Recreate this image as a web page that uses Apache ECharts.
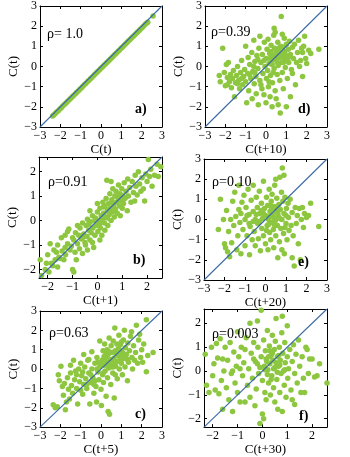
<!DOCTYPE html>
<html>
<head>
<meta charset="utf-8">
<script src="https://cdn.jsdelivr.net/npm/echarts@6/dist/echarts.min.js"></script>
<style>
  html, body { margin: 0; padding: 0; background: #fff; }
  #chart { width: 350px; height: 457px; }
</style>
</head>
<body>
<div id="chart"></div>
<script>
// C(t) vs itself (lag 0)
var pointsA = [[-2.38,-2.45],[-2.32,-2.4],[-2.25,-2.33],[-2.18,-2.26],[-2.1,-2.19],[-2.02,-2.11],[-1.95,-2.04],[-1.88,-1.96],[-1.8,-1.89],[-1.72,-1.81],
  [-1.65,-1.74],[-1.57,-1.66],[-1.5,-1.59],[-1.42,-1.51],[-1.35,-1.44],[-1.27,-1.36],[-1.2,-1.29],[-1.12,-1.21],[-1.05,-1.14],[-0.97,-1.06],
  [-0.9,-0.99],[-0.82,-0.91],[-0.75,-0.84],[-0.67,-0.76],[-0.6,-0.69],[-0.52,-0.61],[-0.45,-0.54],[-0.37,-0.46],[-0.3,-0.39],[-0.22,-0.31],
  [-0.15,-0.24],[-0.07,-0.16],[0.0,-0.09],[0.08,-0.01],[0.15,0.06],[0.23,0.14],[0.3,0.21],[0.38,0.29],[0.45,0.36],[0.53,0.44],
  [0.6,0.51],[0.68,0.59],[0.75,0.66],[0.83,0.74],[0.9,0.81],[0.98,0.89],[1.05,0.96],[1.13,1.04],[1.2,1.11],[1.28,1.19],
  [1.35,1.26],[1.43,1.34],[1.5,1.41],[1.58,1.49],[1.65,1.56],[1.73,1.64],[1.8,1.71],[1.88,1.79],[1.95,1.86],[2.03,1.94],
  [2.1,2.01],[2.18,2.09],[2.25,2.16],[2.3,2.2],[2.56,2.5]];

// C(t) vs C(t+1)
var pointsB = [[-2.3,-1.6],[-2.25,-2.25],[-2.1,-2.0],[-2.05,-1.75],[-1.95,-2.1],[-1.9,-0.95],[-1.85,-1.75],[-1.8,-1.85],[-1.7,-1.6],[-1.65,-1.3],
  [-1.6,-1.9],[-1.55,-1.5],[-1.5,-1.55],[-1.45,-0.7],[-1.42,-1.25],[-1.35,-1.6],[-1.3,-1.1],[-1.28,-1.4],[-1.2,-0.95],[-1.15,-0.35],
  [-1.1,-1.2],[-1.05,-1.05],[-1.0,-2.0],[-0.95,-2.1],[-0.95,-0.8],[-0.9,-1.3],[-0.88,-0.5],[-0.85,-1.6],[-0.8,-0.95],[-0.75,-0.6],
  [-0.72,-1.15],[-0.7,-0.3],[-0.65,-0.75],[-0.6,-1.35],[-0.6,-0.1],[-0.55,-0.55],[-0.5,-0.9],[-0.48,-1.0],[-0.45,-0.2],[-0.42,-0.65],
  [-0.4,0.05],[-0.35,-0.4],[-0.3,-0.8],[-0.28,-0.05],[-0.25,-0.5],[-0.2,0.2],[-0.18,-0.3],[-0.15,-1.1],[-0.1,-0.6],[-0.08,0.1],
  [-0.05,-0.2],[0.0,0.35],[0.02,-0.45],[0.05,0.0],[0.08,-0.15],[0.1,0.5],[0.12,-0.3],[0.15,0.2],[0.18,-0.6],[0.2,0.05],
  [0.22,0.75],[0.25,0.3],[0.28,-0.1],[0.3,0.6],[0.32,0.15],[0.35,0.9],[0.38,1.65],[0.4,0.4],[0.42,-0.2],[0.45,0.7],
  [0.48,0.25],[0.5,1.1],[0.52,0.5],[0.55,0.0],[0.58,0.85],[0.6,0.35],[0.62,1.3],[0.65,0.6],[0.68,0.15],[0.7,1.0],
  [0.72,0.45],[0.75,1.2],[0.78,0.75],[0.8,0.3],[0.82,0.95],[0.85,1.45],[0.88,0.6],[0.9,1.1],[0.92,0.2],[0.95,0.8],
  [0.98,1.3],[1.0,0.5],[1.02,1.0],[1.05,0.7],[1.08,1.55],[1.1,0.9],[1.15,1.2],[1.2,0.4],[1.22,1.7],[1.25,1.0],
  [1.3,1.35],[1.35,0.75],[1.4,1.6],[1.45,1.15],[1.5,0.8],[1.52,1.85],[1.55,1.4],[1.6,1.05],[1.65,2.0],[1.7,1.5],
  [1.75,1.2],[1.8,1.75],[1.85,1.3],[1.9,0.8],[1.95,1.9],[2.0,1.6],[2.05,2.5],[2.1,1.8],[2.15,2.1],[2.2,1.4],
  [2.3,1.85],[2.4,2.3],[2.55,2.2],[2.45,1.8],[-1.0,-0.7],[-1.2,-0.45],[-0.8,-0.2],[-1.6,-1.0],[-1.75,-1.2],[-2.0,-1.4],
  [-1.3,-0.6],[-0.6,-0.7],[-0.3,0.4],[0.1,-0.8],[-0.2,-0.9],[0.3,-0.4],[0.0,0.7],[0.55,1.6],[-0.4,-1.2],[0.7,0.4],
  [0.4,0.1],[0.6,0.75],[0.25,0.55],[-0.1,0.0],[0.15,-0.05],[0.85,0.85],[1.15,0.95],[-0.35,-0.15],[0.45,0.45],[0.95,1.05]];

// C(t) vs C(t+5)
var pointsC = [[-2.35,-1.85],[-2.25,-2.0],[-2.15,-1.95],[-2.1,-0.3],[-2.05,-0.6],[-1.97,0.15],[-1.9,-0.9],[-1.85,-1.35],[-1.8,-0.75],[-1.75,-2.1],
  [-1.7,-1.7],[-1.65,-0.45],[-1.6,-1.05],[-1.55,-1.55],[-1.5,0.2],[-1.5,-0.2],[-1.45,-0.85],[-1.4,-1.25],[-1.35,0.45],[-1.3,-0.55],
  [-1.25,-0.1],[-1.2,-1.0],[-1.15,-1.8],[-1.1,0.0],[-1.05,-0.65],[-1.0,0.3],[-0.95,-0.35],[-0.9,-1.3],[-0.85,0.75],[-0.85,-0.8],
  [-0.8,0.1],[-0.75,-0.5],[-0.7,-1.0],[-0.65,0.45],[-0.6,-0.2],[-0.55,-1.8],[-0.5,-0.7],[-0.45,0.9],[-0.45,0.0],[-0.4,-0.45],
  [-0.35,-1.25],[-0.3,0.3],[-0.25,-0.9],[-0.22,-1.7],[-0.2,0.6],[-0.15,-0.15],[-0.1,-0.55],[-0.06,1.45],[-0.05,0.15],[0.0,-1.05],
  [0.02,-1.88],[0.05,0.45],[0.08,-0.3],[0.1,0.95],[0.12,-0.7],[0.15,0.2],[0.18,1.3],[0.2,-0.1],[0.22,0.6],[0.25,-1.4],
  [0.28,0.35],[0.3,1.0],[0.32,-0.45],[0.35,-2.2],[0.35,0.75],[0.38,0.05],[0.4,1.6],[0.42,-2.34],[0.45,0.5],[0.48,-0.8],
  [0.5,1.2],[0.52,0.25],[0.55,0.85],[0.58,-0.2],[0.6,1.45],[0.62,0.55],[0.65,-1.5],[0.68,2.12],[0.7,0.95],[0.72,0.15],
  [0.75,0.7],[0.78,1.3],[0.8,-0.5],[0.82,0.4],[0.85,1.05],[0.88,1.75],[0.9,0.0],[0.92,0.65],[0.95,1.25],[1.0,0.3],
  [1.02,0.9],[1.05,-0.3],[1.1,1.5],[1.12,0.55],[1.15,2.0],[1.18,0.1],[1.2,1.1],[1.25,0.75],[1.3,-0.6],[1.32,1.35],
  [1.35,0.35],[1.4,0.95],[1.45,1.7],[1.5,1.93],[1.52,0.6],[1.55,0.0],[1.6,1.2],[1.65,0.45],[1.7,0.85],[1.74,2.26],
  [1.8,0.3],[1.85,1.5],[1.9,1.8],[1.95,0.6],[2.0,1.0],[2.05,0.35],[2.1,1.3],[2.23,2.55],[2.23,-0.14],[2.3,0.7],
  [2.56,0.86],[-0.3,-0.6],[0.0,0.3],[0.4,0.9],[-0.7,-0.8],[0.6,0.1],[-1.0,-1.1],[-0.2,0.0],[0.9,1.0],[1.3,0.5],
  [0.1,-0.2],[-0.6,0.5],[0.7,-0.3],[-1.2,-0.3],[-0.9,-0.15],[0.25,0.8],[0.55,0.4],[1.0,1.4],
  [-0.5,-0.3],[0.15,0.65],[0.45,0.1],[0.8,0.75],[-0.15,0.35],[0.65,0.3],[1.1,0.8],[-0.35,-0.8],[0.3,0.2],[0.95,0.5]];

// C(t) vs C(t+10)
var pointsD = [[-2.3,-0.45],[-2.25,-0.75],[-2.13,0.9],[-2.05,-0.3],[-2.0,-0.95],[-1.95,0.1],[-1.9,-0.55],[-1.85,0.2],[-1.8,-0.75],[-1.75,-0.4],
  [-1.7,-1.05],[-1.65,-0.6],[-1.6,-0.2],[-1.55,-1.5],[-1.5,-0.8],[-1.45,-0.45],[-1.4,0.0],[-1.35,-0.7],[-1.3,-1.1],[-1.25,-0.3],
  [-1.2,0.3],[-1.15,-0.9],[-1.1,-0.5],[-1.05,-0.15],[-1.0,1.0],[-1.0,-0.75],[-0.95,-1.8],[-0.9,-0.35],[-0.88,0.45],[-0.85,-1.2],
  [-0.8,0.1],[-0.75,-0.6],[-0.7,0.7],[-0.68,-1.6],[-0.65,-0.25],[-0.6,1.3],[-0.58,-0.85],[-0.55,0.25],[-0.5,-0.5],[-0.48,-1.35],
  [-0.45,0.55],[-0.4,-0.1],[-0.38,-1.9],[-0.35,0.9],[-0.3,1.5],[-0.3,-0.7],[-0.25,0.2],[-0.2,-1.1],[-0.18,0.6],[-0.15,-0.35],
  [-0.1,-1.4],[-0.08,1.2],[-0.05,0.0],[0.0,-1.8],[0.0,0.4],[0.02,-0.6],[0.05,0.85],[0.08,-0.2],[0.1,1.35],[0.12,-1.0],
  [0.15,0.15],[0.18,0.65],[0.2,-1.5],[0.22,-0.45],[0.25,1.05],[0.28,0.3],[0.3,-2.0],[0.32,-0.8],[0.35,0.55],[0.38,1.55],
  [0.4,1.9],[0.4,-0.1],[0.42,0.9],[0.45,-1.2],[0.45,1.7],[0.48,0.35],[0.5,-1.6],[0.52,0.7],[0.55,-0.4],[0.58,1.2],
  [0.6,0.05],[0.6,-1.9],[0.62,0.9],[0.65,0.45],[0.68,-0.7],[0.7,-2.3],[0.72,1.0],[0.75,2.48],[0.75,0.2],[0.78,0.65],
  [0.8,1.6],[0.8,-0.3],[0.82,0.95],[0.85,-1.1],[0.88,0.4],[0.9,1.4],[0.92,0.75],[0.95,-0.05],[1.0,-2.0],[1.0,1.1],
  [1.02,0.5],[1.05,-0.6],[1.1,0.85],[1.12,0.2],[1.15,1.25],[1.2,-1.5],[1.2,0.6],[1.25,-0.15],[1.3,0.95],[1.3,-0.35],
  [1.35,0.4],[1.4,1.1],[1.45,-0.9],[1.5,0.2],[1.55,0.7],[1.6,1.3],[1.65,0.0],[1.7,0.3],[1.75,0.9],[1.8,0.7],
  [1.8,-0.5],[1.85,1.0],[1.9,1.5],[1.95,0.4],[2.0,0.15],[2.1,0.8],[2.2,0.65],[2.6,0.85],[-1.9,-0.9],[-1.2,-0.6],
  [-0.6,0.0],[0.15,-0.75],[-0.25,-0.9],[0.55,0.2],[-0.8,-0.4],[0.3,0.1],[-1.4,-0.85],[-0.4,0.35],[1.0,0.3],[0.7,0.5],
  [0.25,0.75],[0.5,0.55],[0.85,0.2],[-0.1,0.3],[0.65,0.75],[1.1,0.45],[0.35,-0.3],[0.95,0.6],[-0.55,-0.3],[0.2,0.4]];

// C(t) vs C(t+20)
var pointsE = [[-2.3,-0.5],[-2.2,1.0],[-2.05,0.0],[-2.0,-1.2],[-1.95,-1.4],[-1.9,0.45],[-1.85,-1.6],[-1.8,-0.6],[-1.75,-1.85],[-1.7,0.0],
  [-1.65,-1.15],[-1.6,0.9],[-1.55,-0.3],[-1.5,1.35],[-1.45,0.15],[-1.4,-1.5],[-1.35,-0.8],[-1.3,1.7],[-1.3,0.5],[-1.25,-0.15],
  [-1.2,-1.7],[-1.15,0.85],[-1.1,-0.5],[-1.05,1.2],[-1.0,0.0],[-1.0,-1.3],[-0.95,0.6],[-0.9,-0.8],[-0.85,1.5],[-0.8,0.25],
  [-0.78,-1.75],[-0.75,-0.35],[-0.7,0.95],[-0.65,-1.0],[-0.6,1.7],[-0.6,0.4],[-0.55,-0.6],[-0.5,0.0],[-0.5,-1.3],[-0.45,1.1],
  [-0.4,0.6],[-0.38,-0.2],[-0.35,-0.95],[-0.3,1.4],[-0.28,0.3],[-0.25,-1.55],[-0.2,0.8],[-0.18,-0.45],[-0.15,0.05],[-0.1,1.9],
  [-0.1,-0.8],[-0.05,0.55],[0.0,-1.2],[0.0,0.2],[0.05,1.1],[0.08,-0.3],[0.1,0.7],[0.12,-1.5],[0.15,0.0],[0.18,1.5],
  [0.2,-0.65],[0.22,0.4],[0.25,-1.0],[0.28,0.9],[0.3,-0.15],[0.32,1.25],[0.35,0.25],[0.38,-0.5],[0.4,-1.4],[0.42,0.65],
  [0.45,1.7],[0.48,-0.05],[0.5,2.0],[0.5,-0.8],[0.52,0.45],[0.55,1.05],[0.58,-0.3],[0.6,-1.9],[0.62,0.15],[0.65,0.75],
  [0.68,-1.1],[0.7,2.1],[0.72,0.5],[0.75,-0.45],[0.78,1.35],[0.8,-1.5],[0.8,0.0],[0.82,2.55],[0.85,0.9],[0.88,-0.7],
  [0.9,2.2],[0.9,0.3],[0.92,-1.7],[0.95,1.1],[1.0,-0.2],[1.02,0.55],[1.05,-1.0],[1.1,0.8],[1.12,0.1],[1.15,-0.55],
  [1.2,1.0],[1.25,-0.3],[1.3,-1.9],[1.3,0.35],[1.35,-0.8],[1.4,-2.3],[1.45,0.6],[1.5,-0.2],[1.55,0.2],[1.6,-1.2],
  [1.65,0.55],[1.7,-2.0],[1.75,0.0],[1.8,0.6],[1.85,-0.4],[1.9,0.3],[2.0,0.1],[2.1,0.2],[2.2,0.8],[2.6,-0.35],
  [-0.9,0.2],[-0.3,-0.1],[0.3,0.55],[-1.2,0.3],[0.6,0.3],[0.2,0.15],[-0.6,-0.1],[1.0,0.2],[-0.1,0.3],[0.45,-0.3],
  [-0.2,0.45],[0.15,-0.25],[0.4,0.1],[0.7,0.05],[-0.45,0.25],[0.05,-0.55],[0.25,0.7],[-0.8,-0.2],[0.55,0.6],[0.95,-0.4]];

// C(t) vs C(t+30)
var pointsF = [[-2.3,0.7],[-2.25,-0.6],[-2.15,-0.9],[-2.05,1.0],[-2.0,-0.2],[-1.95,0.3],[-1.9,-0.8],[-1.85,1.15],[-1.8,0.55],[-1.75,-0.95],
  [-1.7,1.35],[-1.65,-0.4],[-1.6,-1.6],[-1.55,0.0],[-1.5,1.0],[-1.45,-0.7],[-1.4,0.45],[-1.35,-1.2],[-1.3,1.2],[-1.25,-0.1],
  [-1.2,-1.7],[-1.15,0.8],[-1.1,-0.5],[-1.05,0.2],[-1.0,1.65],[-1.0,-0.9],[-0.95,0.6],[-0.9,-1.3],[-0.85,1.0],[-0.8,-0.2],
  [-0.75,0.35],[-0.7,-1.3],[-0.65,1.4],[-0.6,-0.6],[-0.55,0.1],[-0.5,2.0],[-0.5,-1.1],[-0.45,0.75],[-0.4,-0.3],[-0.35,1.2],
  [-0.3,-1.45],[-0.28,0.4],[-0.25,-0.75],[-0.2,2.1],[-0.18,1.0],[-0.15,-0.1],[-0.1,-2.2],[-0.05,2.55],[-0.05,0.6],[0.0,-1.8],
  [0.0,-0.4],[0.05,1.3],[0.05,-2.0],[0.08,0.2],[0.1,-0.9],[0.12,0.85],[0.15,-1.2],[0.18,0.4],[0.2,1.7],[0.22,0.05],
  [0.25,-0.5],[0.28,1.05],[0.3,0.3],[0.32,-1.0],[0.35,0.65],[0.38,-0.2],[0.4,1.5],[0.42,0.45],[0.45,-0.7],[0.48,0.9],
  [0.5,-1.3],[0.5,0.15],[0.52,1.25],[0.55,2.2],[0.58,-0.35],[0.6,0.6],[0.62,-1.6],[0.65,0.2],[0.68,1.0],[0.7,-0.9],
  [0.72,0.45],[0.75,-0.1],[0.78,1.6],[0.8,2.3],[0.8,-1.7],[0.82,0.75],[0.85,0.0],[0.88,-0.6],[0.9,1.2],[0.92,0.35],
  [0.95,-1.1],[1.0,1.9],[1.0,0.6],[1.02,-0.3],[1.05,0.1],[1.1,0.9],[1.15,-0.8],[1.2,-1.2],[1.2,0.4],[1.25,1.1],
  [1.3,-1.4],[1.3,-0.1],[1.35,0.7],[1.4,-0.5],[1.45,1.3],[1.5,0.2],[1.55,-0.9],[1.6,0.6],[1.65,-0.3],[1.7,-0.9],
  [1.75,1.0],[1.8,0.9],[1.85,-0.1],[1.9,0.5],[2.0,0.5],[2.1,-0.25],[2.2,-0.2],[2.3,0.3],[2.6,-0.5],[-1.6,0.5],
  [-0.7,0.9],[0.3,0.85],[0.15,0.5],[0.45,0.1],[-0.2,0.3],[0.6,-0.05],[-1.2,0.0],[0.35,-0.35],[-0.9,0.1],
  [0.25,0.6],[0.55,0.35],[0.1,0.05],[0.4,0.75],[-0.1,0.15],[0.7,0.25],[0.2,-0.15],[-0.35,0.5],[0.65,0.65],[0.9,0.05]];

var xNames = ['C(t)', 'C(t+1)', 'C(t+5)', 'C(t+10)', 'C(t+20)', 'C(t+30)'];
var rhoTexts = ['ρ= 1.0', 'ρ=0.91', 'ρ=0.63', 'ρ=0.39', 'ρ=0.10', 'ρ=0.003'];
var panelLetters = ['a)', 'b)', 'c)', 'd)', 'e)', 'f)'];
var fullTicks = [-3, -2, -1, 0, 1, 2, 3];
var shortTicks = [-2, -1, 0, 1, 2];

var allPoints = [pointsA, pointsB, pointsC, pointsD, pointsE, pointsF];
var ranges = [[-3, 3], [-2.35, 2.6], [-3, 3], [-3, 3], [-3, 3], [-2.35, 2.6]];
var tickSets = [fullTicks, shortTicks, fullTicks, fullTicks, fullTicks, shortTicks];

// layout of the six boxes (left, top, width, height)
var boxes = [
  [40, 5, 122, 122], [39, 157, 123, 121], [40, 311, 122, 122],
  [205, 5, 122, 122], [204, 159, 123, 121], [204, 309, 123, 122]
];
var rhoPos = [[47, 35], [48, 183], [49, 334], [211, 33], [212, 183], [212, 335]];
var letterPos = [[135, 110], [133, 261], [135, 415], [298, 110], [298, 263], [299, 417]];

var serif = 'Liberation Serif';
function fmt(v) { return v < 0 ? '\u2212' + Math.abs(v) : String(v); }

var grids = [], xAxes = [], yAxes = [], series = [], graphics = [];
for (var i = 0; i < 6; i++) {
  var b = boxes[i], r = ranges[i], t = tickSets[i];
  grids.push({ left: b[0], top: b[1], width: b[2], height: b[3] });
  var common = {
    gridIndex: i, type: 'value', min: r[0], max: r[1],
    axisLine: { show: true, onZero: false, lineStyle: { color: '#000', width: 1 } },
    axisTick: { show: true, inside: true, length: 3, customValues: t, lineStyle: { color: '#000' } },
    splitLine: { show: false }
  };
  xAxes.push(Object.assign({}, common, {
    position: 'bottom',
    name: xNames[i], nameLocation: 'middle', nameGap: 10,
    nameTextStyle: { fontFamily: serif, fontSize: 13, color: '#000' },
    axisLabel: { customValues: t, margin: 3, fontFamily: serif, fontSize: 12, color: '#000', formatter: fmt }
  }));
  xAxes.push(Object.assign({}, common, { position: 'top', axisLabel: { show: false } }));
  yAxes.push(Object.assign({}, common, {
    position: 'left',
    name: 'C(t)', nameLocation: 'middle', nameGap: 14,
    nameTextStyle: { fontFamily: serif, fontSize: 13, color: '#000' },
    axisLabel: { customValues: t, margin: 3, fontFamily: serif, fontSize: 12, color: '#000', formatter: fmt }
  }));
  yAxes.push(Object.assign({}, common, { position: 'right', axisLabel: { show: false } }));

  series.push({
    type: 'scatter', xAxisIndex: 2 * i, yAxisIndex: 2 * i,
    data: allPoints[i], symbolSize: 5.5,
    itemStyle: { color: '#8dc63f', opacity: 1 }
  });
  series.push({
    type: 'line', xAxisIndex: 2 * i, yAxisIndex: 2 * i,
    data: [[r[0], r[0]], [r[1], r[1]]], symbol: 'none',
    lineStyle: { color: '#3a6aa5', width: 1.1 }, z: 3
  });

  graphics.push({
    type: 'text', left: rhoPos[i][0], top: rhoPos[i][1] - 8,
    style: { text: rhoTexts[i], font: '14px "Liberation Serif"', fill: '#000' }, z: 10
  });
  graphics.push({
    type: 'text', left: letterPos[i][0], top: letterPos[i][1] - 8,
    style: { text: panelLetters[i], font: 'bold 14px "Liberation Serif"', fill: '#000' }, z: 10
  });
}

var chart = echarts.init(document.getElementById('chart'));
chart.setOption({
  animation: false,
  backgroundColor: '#fff',
  grid: grids,
  xAxis: xAxes,
  yAxis: yAxes,
  series: series,
  graphic: graphics
});
</script>
</body>
</html>
